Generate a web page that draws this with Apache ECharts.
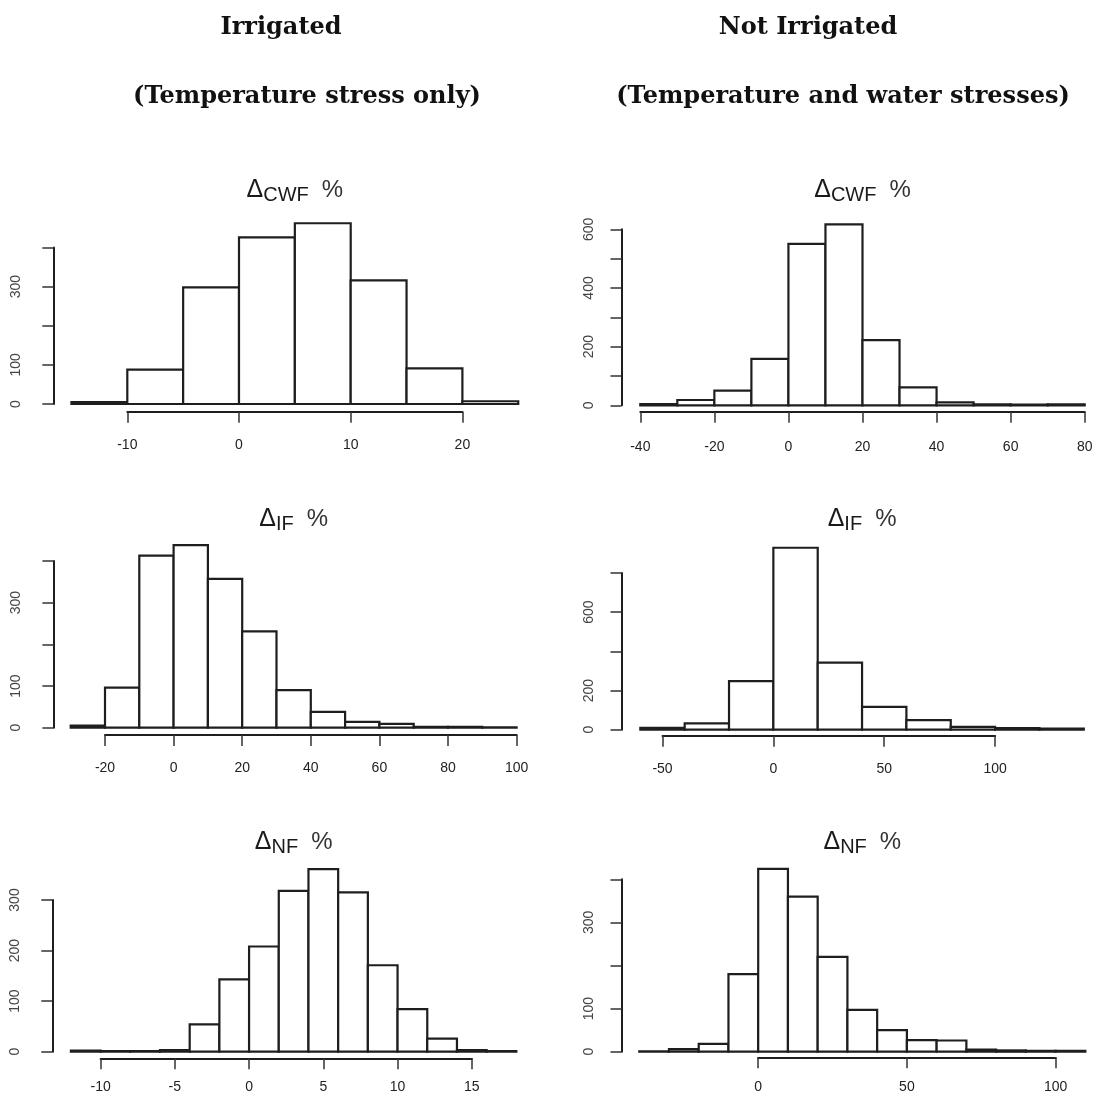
<!DOCTYPE html>
<html>
<head>
<meta charset="utf-8">
<title>Distribution of changes in water footprints</title>
<script src="https://cdn.jsdelivr.net/npm/echarts@6.0.0/dist/echarts.min.js"></script>
<style>
  html, body { margin: 0; padding: 0; background: #fff; }
  #main { width: 1096px; height: 1101px; }
</style>
</head>
<body>
<div id="main"></div>
<script>
// ---- Histogram data: bin edges (% change) and number of cases per bin ----
// Irrigated, crop water footprint
const cwfIrrBreaks = [-15, -10, -5, 0, 5, 10, 15, 20, 25];
const cwfIrrCounts = [5, 88, 298, 426, 462, 316, 91, 7];
const cwfIrrXTicks = [-10, 0, 10, 20];
const cwfIrrYTicks = [0, 100, 200, 300, 400];
const cwfIrrYLabels = ['0', '100', '300'];

// Not irrigated, crop water footprint
const cwfRainBreaks = [-40, -30, -20, -10, 0, 10, 20, 30, 40, 50, 60, 70, 80];
const cwfRainCounts = [4, 18, 50, 158, 550, 617, 222, 61, 10, 3, 2, 3];
const cwfRainXTicks = [-40, -20, 0, 20, 40, 60, 80];
const cwfRainYTicks = [0, 100, 200, 300, 400, 500, 600];
const cwfRainYLabels = ['0', '200', '400', '600'];

// Irrigated, irrigation footprint
const ifIrrBreaks = [-30, -20, -10, 0, 10, 20, 30, 40, 50, 60, 70, 80, 90, 100];
const ifIrrCounts = [5, 96, 413, 438, 357, 231, 90, 38, 14, 9, 2, 2, 1];
const ifIrrXTicks = [-20, 0, 20, 40, 60, 80, 100];
const ifIrrYTicks = [0, 100, 200, 300, 400];
const ifIrrYLabels = ['0', '100', '300'];

// Not irrigated, irrigation footprint
const ifRainBreaks = [-60, -40, -20, 0, 20, 40, 60, 80, 100, 120, 140];
const ifRainCounts = [10, 32, 248, 929, 342, 117, 49, 14, 8, 6];
const ifRainXTicks = [-50, 0, 50, 100];
const ifRainYTicks = [0, 200, 400, 600, 800];
const ifRainYLabels = ['0', '200', '600'];

// Irrigated, nitrogen footprint
const nfIrrBreaks = [-12, -10, -8, -6, -4, -2, 0, 2, 4, 6, 8, 10, 12, 14, 16, 18];
const nfIrrCounts = [2, 1, 1, 3, 54, 143, 208, 318, 361, 315, 171, 84, 26, 3, 1];
const nfIrrXTicks = [-10, -5, 0, 5, 10, 15];
const nfIrrYTicks = [0, 100, 200, 300];
const nfIrrYLabels = ['0', '100', '200', '300'];

// Not irrigated, nitrogen footprint
const nfRainBreaks = [-40, -30, -20, -10, 0, 10, 20, 30, 40, 50, 60, 70, 80, 90, 100, 110];
const nfRainCounts = [1, 6, 18, 180, 424, 360, 220, 97, 50, 27, 26, 5, 3, 2, 2];
const nfRainXTicks = [0, 50, 100];
const nfRainYTicks = [0, 100, 200, 300, 400];
const nfRainYLabels = ['0', '100', '300'];

// Column headings
const columnHeads = ['Irrigated', 'Not Irrigated'];
const columnSubHeads = ['(Temperature stress only)', '(Temperature and water stresses)'];

// ---- Panel geometry (pixel positions of the R-style axes) ----
const panels = [
  { breaks: cwfIrrBreaks, counts: cwfIrrCounts, xTicks: cwfIrrXTicks, yTicks: cwfIrrYTicks, yLabels: cwfIrrYLabels, sub: 'CWF',
    xPix: [127.3, 462.4], axisX: 53.3, zeroY: 404, topY: 247.5, xAxisY: 411.7, yMargin: 30, xMargin: 26, titleTop: 175 },
  { breaks: cwfRainBreaks, counts: cwfRainCounts, xTicks: cwfRainXTicks, yTicks: cwfRainYTicks, yLabels: cwfRainYLabels, sub: 'CWF',
    xPix: [640.3, 1084.7], axisX: 621.5, zeroY: 405.3, topY: 229.3, xAxisY: 411.7, yMargin: 25, xMargin: 28, titleTop: 175 },
  { breaks: ifIrrBreaks, counts: ifIrrCounts, xTicks: ifIrrXTicks, yTicks: ifIrrYTicks, yLabels: ifIrrYLabels, sub: 'IF',
    xPix: [105, 516.6], axisX: 53.4, zeroY: 727.7, topY: 561, xAxisY: 735, yMargin: 30, xMargin: 26, titleTop: 504 },
  { breaks: ifRainBreaks, counts: ifRainCounts, xTicks: ifRainXTicks, yTicks: ifRainYTicks, yLabels: ifRainYLabels, sub: 'IF',
    xPix: [662.5, 995.1], axisX: 621.5, zeroY: 729.7, topY: 573, xAxisY: 735.7, yMargin: 25, xMargin: 26, titleTop: 504 },
  { breaks: nfIrrBreaks, counts: nfIrrCounts, xTicks: nfIrrXTicks, yTicks: nfIrrYTicks, yLabels: nfIrrYLabels, sub: 'NF',
    xPix: [100.6, 471.8], axisX: 52.3, zeroY: 1051.7, topY: 900, xAxisY: 1058.3, yMargin: 30, xMargin: 22, titleTop: 827 },
  { breaks: nfRainBreaks, counts: nfRainCounts, xTicks: nfRainXTicks, yTicks: nfRainYTicks, yLabels: nfRainYLabels, sub: 'NF',
    xPix: [758.2, 1055.6], axisX: 621.5, zeroY: 1051.7, topY: 879.3, xAxisY: 1057.3, yMargin: 25, xMargin: 23, titleTop: 827 }
];

const LINE = '#1e1e1e';
const SANS = 'Liberation Sans, Arial, Helvetica, sans-serif';
const SERIF = 'DejaVu Serif, Liberation Serif, serif';

function renderBar(params, api) {
  const top = api.coord([api.value(0), api.value(2)]);
  const bottom = api.coord([api.value(1), 0]);
  return {
    type: 'rect',
    shape: { x: top[0], y: top[1], width: bottom[0] - top[0], height: bottom[1] - top[1] },
    style: { fill: '#ffffff', stroke: LINE, lineWidth: 2.2 }
  };
}

const grid = [], xAxis = [], yAxis = [], series = [], title = [];

panels.forEach((p, i) => {
  const x0 = p.xTicks[0], x1 = p.xTicks[p.xTicks.length - 1];
  const kx = (p.xPix[1] - p.xPix[0]) / (x1 - x0);
  const px = v => p.xPix[0] + (v - x0) * kx;
  const b0 = p.breaks[0], b1 = p.breaks[p.breaks.length - 1];
  const gLeft = px(b0), gRight = px(b1);
  const yMax = p.yTicks[p.yTicks.length - 1];
  const yStep = p.yTicks[1] - p.yTicks[0];
  const gi = grid.length;

  // plotting region holding the bars and the count axis
  grid.push({ left: gLeft, top: p.topY, width: gRight - gLeft, height: p.zeroY - p.topY });
  xAxis.push({ gridIndex: gi, type: 'value', min: b0, max: b1, show: false });
  yAxis.push({
    gridIndex: gi, type: 'value', min: 0, max: yMax, interval: yStep,
    position: 'left',
    offset: gLeft - p.axisX,
    axisLine: { show: true, onZero: false, lineStyle: { color: LINE, width: 2 } },
    axisTick: { show: true, length: 11, lineStyle: { color: '#333', width: 1.5 } },
    splitLine: { show: false },
    axisLabel: {
      rotate: 90, margin: p.yMargin, color: '#444', fontSize: 14, fontFamily: SANS,
      formatter: v => (p.yLabels.indexOf(String(v)) >= 0 ? String(v) : '')
    }
  });

  // separate strip carrying the value axis, which spans only the tick range
  grid.push({ left: p.xPix[0], top: p.xAxisY - 20, width: p.xPix[1] - p.xPix[0], height: 20 });
  xAxis.push({
    gridIndex: gi + 1, type: 'value', position: 'bottom',
    min: x0, max: x1, interval: p.xTicks[1] - p.xTicks[0],
    axisLine: { show: true, onZero: false, lineStyle: { color: LINE, width: 2 } },
    axisTick: { show: true, length: 11, lineStyle: { color: '#333', width: 1.5 } },
    splitLine: { show: false },
    axisLabel: { margin: p.xMargin, color: '#222', fontSize: 14, fontFamily: SANS, showMinLabel: true, showMaxLabel: true }
  });
  yAxis.push({ gridIndex: gi + 1, type: 'value', show: false, min: 0, max: 1 });

  series.push({
    type: 'custom',
    xAxisIndex: gi, yAxisIndex: gi,
    clip: false,
    silent: true,
    renderItem: renderBar,
    encode: { x: [0, 1], y: 2 },
    data: p.counts.map((c, j) => [p.breaks[j], p.breaks[j + 1], c])
  });

  // panel heading: Δ with subscript, then %
  title.push({
    text: '{d|Δ}{s|' + p.sub + '}{p|%}',
    left: px((b0 + b1) / 2), top: p.titleTop, textAlign: 'center', padding: 0,
    textStyle: {
      fontWeight: 'normal',
      rich: {
        d: { fontSize: 25, fontFamily: SANS, fontWeight: 'normal', color: '#1a1a1a', lineHeight: 30 },
        s: { fontSize: 20, fontFamily: SANS, fontWeight: 'normal', color: '#1a1a1a', lineHeight: 19, verticalAlign: 'bottom' },
        p: { fontSize: 24, fontFamily: SANS, fontWeight: 'normal', color: '#333', lineHeight: 30, padding: [0, 0, 0, 13] }
      }
    }
  });
});

// column headings
const headX = [281, 808];
const subX = [307, 843];
columnHeads.forEach((t, i) => {
  title.push({ text: t, left: headX[i], top: 16, textAlign: 'center', padding: 0,
    textStyle: { fontFamily: SERIF, fontWeight: 'bold', fontSize: 24, color: '#111' } });
  title.push({ text: columnSubHeads[i], left: subX[i], top: 85, textAlign: 'center', padding: 0,
    textStyle: { fontFamily: SERIF, fontWeight: 'bold', fontSize: 24, color: '#111' } });
});

const chart = echarts.init(document.getElementById('main'), null, { renderer: 'canvas' });
chart.setOption({
  backgroundColor: '#ffffff',
  animation: false,
  title, grid, xAxis, yAxis, series
});
</script>
</body>
</html>
